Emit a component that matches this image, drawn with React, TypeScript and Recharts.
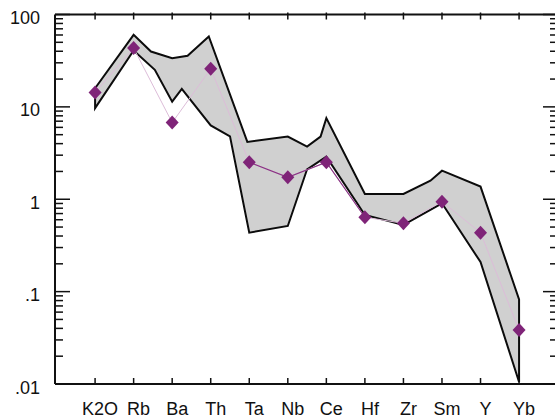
import React from 'react';
import { ComposedChart, Scatter, XAxis, YAxis } from 'recharts';

// element order along the x axis
const ELEMENTS = ['K2O', 'Rb', 'Ba', 'Th', 'Ta', 'Nb', 'Ce', 'Hf', 'Zr', 'Sm', 'Y', 'Yb'];

// normalised sample (diamonds)
const SAMPLE = [14.3, 43.3, 6.76, 25.8, 2.52, 1.73, 2.52, 0.638, 0.549, 0.942, 0.435, 0.0384];

// field envelope, upper and lower boundaries (x in element positions)
const UPPER_X = [0, 1, 1.45, 2, 2.4, 2.95, 3.95, 5, 5.5, 5.85, 6, 7, 8, 8.7, 9, 10, 11];
const UPPER_Y = [15.9, 60.3, 39.7, 33.7, 35.7, 57.8, 4.18, 4.77, 3.71, 4.77, 7.55, 1.14, 1.14, 1.59, 2.04, 1.37, 0.0825];
const LOWER_X = [0, 1, 1.55, 2, 2.25, 3, 3.5, 4, 5, 5.5, 6, 7, 8, 9, 10, 11];
const LOWER_Y = [9.68, 40.7, 25.2, 11.4, 15.7, 6.3, 4.79, 0.435, 0.514, 2.11, 2.89, 0.676, 0.527, 0.905, 0.209, 0.0105];

const DECADES = [0.01, 0.1, 1, 10, 100];
const DECADE_LABELS = ['.01', '.1', '1', '10', '100'];
const MINOR_STEPS = [2, 3, 4, 5, 6, 7, 8, 9];

const FONT = '"Liberation Sans", Arial, sans-serif';
const INK = '#111';

const yTicks = DECADES.flatMap((d, i) =>
  i < DECADES.length - 1 ? [d, ...MINOR_STEPS.map((m) => d * m)] : [d]
);
const xTicks = ELEMENTS.map((_, i) => i);

const samplePts = SAMPLE.map((y, i) => ({ x: i, y }));
const darkPts = samplePts.slice(4, 8);
const upperPts = UPPER_X.map((x, i) => ({ x, y: UPPER_Y[i] }));
const lowerPts = LOWER_X.map((x, i) => ({ x, y: LOWER_Y[i] }));
// closed outline: along the top, back along the bottom, then to the start
const fieldPts = [...upperPts, ...lowerPts.slice().reverse(), upperPts[0]];

const isDecade = (v: number) => DECADES.indexOf(v) >= 0;

const LeftTick = (props: any) => {
  const { x, y, payload } = props;
  const axisX = x + 15;
  const v = payload.value;
  const major = isDecade(v);
  return (
    <g>
      <line x1={axisX} x2={axisX + (major ? 15 : 8)} y1={y} y2={y} stroke={INK} strokeWidth={1.5} />
      {major && (
        <text x={x} y={y + 9.5} textAnchor="end" fontSize={18} fontFamily={FONT} fill={INK}>
          {DECADE_LABELS[DECADES.indexOf(v)]}
        </text>
      )}
    </g>
  );
};

const RightTick = (props: any) => {
  const { x, y, payload } = props;
  const major = isDecade(payload.value);
  return <line x1={x - (major ? 15 : 8)} x2={x} y1={y} y2={y} stroke={INK} strokeWidth={1.5} />;
};

const BottomTick = (props: any) => {
  const { x, y, payload } = props;
  const axisY = y - 31;
  return (
    <g>
      <line x1={x} x2={x} y1={axisY} y2={axisY - 6} stroke={INK} strokeWidth={1.5} />
      <text x={x + 5} y={axisY + 31} textAnchor="middle" fontSize={18} fontFamily={FONT} fill={INK}>
        {ELEMENTS[payload.value]}
      </text>
    </g>
  );
};

const TopTick = (props: any) => {
  const { x, y } = props;
  return <line x1={x} x2={x} y1={y - 2} y2={y + 5} stroke={INK} strokeWidth={1.5} />;
};

const Diamond = (props: any) => {
  const { cx, cy } = props;
  return (
    <polygon
      points={`${cx},${cy - 7} ${cx + 6.5},${cy} ${cx},${cy + 7} ${cx - 6.5},${cy}`}
      fill="#7f2478"
    />
  );
};

const NoShape = () => <g />;

export default function App() {
  const axisLine = { stroke: INK, strokeWidth: 2 };
  return (
    <div style={{ position: 'absolute', left: 0, top: 0, width: 555, height: 419, overflow: 'hidden', background: '#fff' }}>
      <ComposedChart width={570} height={419} margin={{ top: 13.5, right: 0, bottom: 0, left: 0 }}>
        <XAxis
          xAxisId="t"
          orientation="top"
          type="number"
          dataKey="x"
          domain={[-1.04, 12.01]}
          allowDataOverflow
          ticks={xTicks}
          interval={0}
          height={1}
          tickSize={0}
          tickMargin={0}
          tickLine={false}
          axisLine={axisLine}
          tick={<TopTick />}
        />
        <YAxis
          yAxisId="r"
          orientation="right"
          scale="log"
          type="number"
          dataKey="y"
          domain={[0.01, 100]}
          allowDataOverflow
          ticks={yTicks}
          interval={0}
          width={12}
          tickSize={0}
          tickMargin={0}
          tickLine={false}
          axisLine={false}
          tick={<RightTick />}
        />
        <Scatter
          data={fieldPts}
          isAnimationActive={false}
          line={{ fill: '#d0d0d0', stroke: '#0c0c0c', strokeWidth: 2 }}
          shape={<NoShape />}
        />
        <Scatter
          data={samplePts}
          isAnimationActive={false}
          line={{ stroke: '#dcbcd8', strokeWidth: 1 }}
          shape={<NoShape />}
        />
        <Scatter
          data={darkPts}
          isAnimationActive={false}
          line={{ stroke: '#8a3484', strokeWidth: 1.2 }}
          shape={<NoShape />}
        />
        <Scatter data={samplePts} isAnimationActive={false} fill="#7f2478" shape={<Diamond />} />
        <XAxis
          type="number"
          dataKey="x"
          domain={[-1.04, 12.01]}
          allowDataOverflow
          ticks={xTicks}
          interval={0}
          height={35}
          tickSize={0}
          tickMargin={31}
          tickLine={false}
          axisLine={axisLine}
          tick={<BottomTick />}
        />
        <YAxis
          scale="log"
          type="number"
          dataKey="y"
          domain={[0.01, 100]}
          allowDataOverflow
          ticks={yTicks}
          interval={0}
          width={55}
          tickSize={0}
          tickMargin={15}
          tickLine={false}
          axisLine={axisLine}
          tick={<LeftTick />}
        />
      </ComposedChart>
    </div>
  );
}
